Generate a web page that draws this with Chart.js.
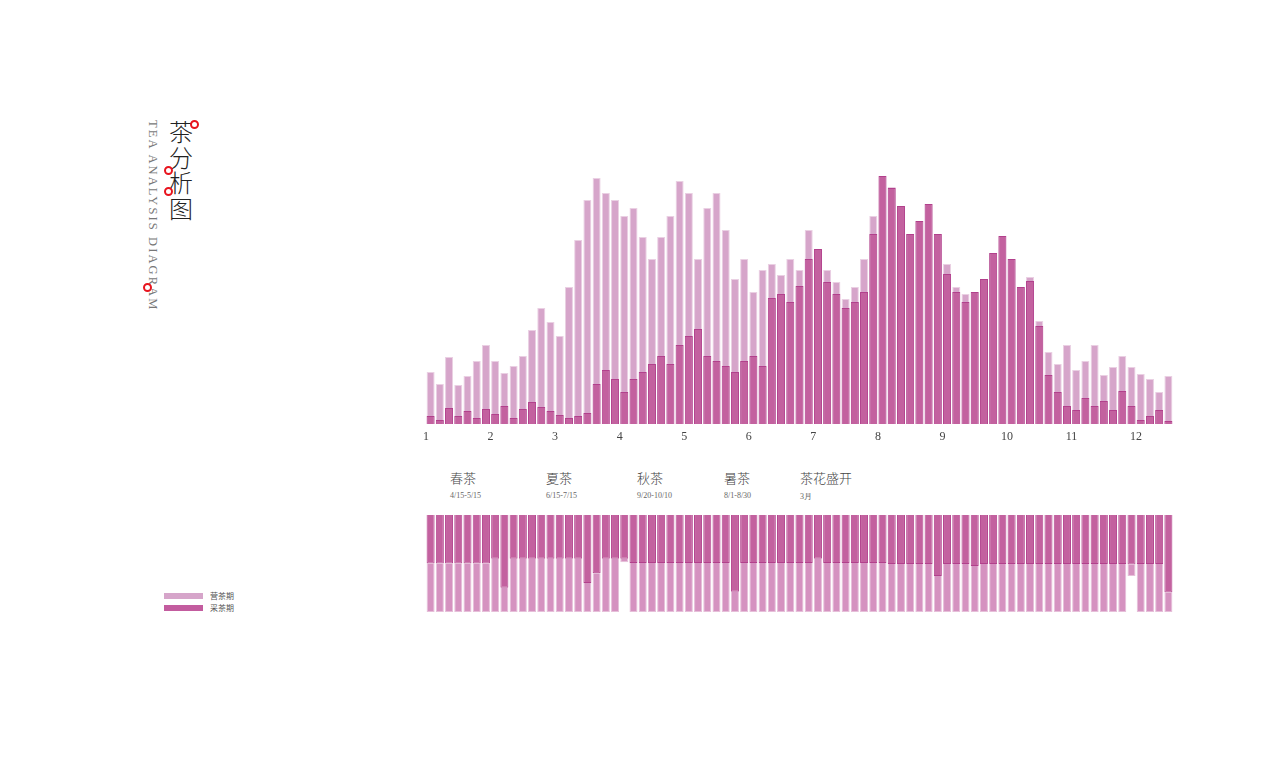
<!DOCTYPE html>
<html>
<head>
<meta charset="utf-8">
<script src="https://cdn.jsdelivr.net/npm/chart.js@4/dist/chart.umd.min.js"></script>
<style>
  html, body { margin: 0; padding: 0; background: #fff; }
  body { width: 1280px; height: 777px; position: relative; overflow: hidden; font-family: "Noto Sans CJK SC", sans-serif; }
  .abs { position: absolute; }
  #titleCn { left: 169px; top: 118px; font-size: 24px; line-height: 25.5px; width: 26px; color: #222; font-weight: 300; font-family: "Noto Sans CJK SC"; }
  #titleEn { left: 145px; top: 120px; writing-mode: vertical-rl; font-family: "Liberation Serif", serif; font-size: 12.5px; letter-spacing: 2.1px; color: #777; }
  .ring { width: 5px; height: 5px; border: 2px solid #e8141e; border-radius: 50%; background: #fff; }
  .season { font-size: 13px; color: #444; font-weight: 300; }
  .date { font-family: "Liberation Serif", serif; font-size: 8px; color: #666; }
  .sw { width: 39px; height: 6px; }
  .lg { font-size: 8px; color: #555; }
</style>
</head>
<body>
<div id="titleCn" class="abs">茶<br>分<br>析<br>图</div>
<div id="titleEn" class="abs">TEA ANALYSIS DIAGRAM</div>
<div class="abs ring" style="left:189.5px;top:119.5px"></div>
<div class="abs ring" style="left:164px;top:165.5px"></div>
<div class="abs ring" style="left:164px;top:187px"></div>
<div class="abs ring" style="left:142.5px;top:282.5px"></div>

<div class="abs" style="left:406px;top:174px;width:787px;height:276px"><canvas id="top"></canvas></div>
<div class="abs" style="left:426px;top:515px;width:747px;height:97px"><canvas id="bottom"></canvas></div>

<div id="seasons"></div>

<div class="abs sw" style="left:164px;top:593px;background:#d6a5ca"></div>
<div class="abs sw" style="left:164px;top:605px;background:#c35c9f"></div>
<div class="abs lg" style="left:210px;top:590px">营茶期</div>
<div class="abs lg" style="left:210px;top:602px">采茶期</div>

<script>
// ---- data ----
const monthLabels = ['1','2','3','4','5','6','7','8','9','10','11','12'];
const barsPerMonth = 7;
// top chart: growing period (light) and picking period (dark)
const growValues = [52,40,67,39,48,63,79,63,51,58,68,94,116,102,88,137,184,224,246,231,224,208,216,187,165,187,208,243,231,165,216,231,194,145,165,132,154,160,149,165,154,194,175,154,142,125,137,165,208,248,237,218,190,203,220,190,160,137,130,132,145,171,188,165,137,147,103,72,60,79,54,63,79,49,57,68,57,50,45,32,48];
const pickValues = [8,4,16,8,13,6,15,10,18,6,15,22,17,13,9,6,8,11,40,54,45,32,45,52,60,68,60,79,88,95,68,63,58,52,63,68,58,126,130,122,138,165,175,142,130,116,122,132,190,248,236,218,190,203,220,190,150,132,122,132,145,171,188,165,137,143,98,49,32,18,14,26,18,23,14,33,18,4,8,14,3];
// bottom chart: share (%) per bar
const pickShare = [50,50,50,50,50,50,50,45,75,45,45,45,45,45,45,45,45,70,60,45,45,45,49.5,49.5,49.5,49.5,49.5,49.5,49.5,49.5,49.5,49.5,49.5,79,49.5,49.5,49.5,49.5,49.5,49.5,49.5,49.5,45,49.5,49.5,49.5,49.5,49.5,49.5,49.5,50.5,50.5,50.5,50.5,50.5,63,50.5,50.5,50.5,52.6,50.5,50.5,50.5,50.5,50.5,50.5,50.5,50.5,50.5,50.5,50.5,50.5,50.5,50.5,50.5,50.5,51,50.5,50.5,50.5,80];
const growShare = [50,50,50,50,50,50,50,55,25,55,55,55,55,55,55,55,55,30,40,55,55,3.8,50.5,50.5,50.5,50.5,50.5,50.5,50.5,50.5,50.5,50.5,50.5,21,50.5,50.5,50.5,50.5,50.5,50.5,50.5,50.5,55,50.5,50.5,50.5,50.5,50.5,50.5,50.5,49.5,49.5,49.5,49.5,49.5,37,49.5,49.5,49.5,47.4,49.5,49.5,49.5,49.5,49.5,49.5,49.5,49.5,49.5,49.5,49.5,49.5,49.5,49.5,49.5,49.5,12,49.5,49.5,49.5,20];
const seasonNames = ['春茶','夏茶','秋茶','暑茶','茶花盛开'];
const seasonDates = ['4/15-5/15','6/15-7/15','9/20-10/10','8/1-8/30','3月'];

// ---- season labels ----
const seasonX = [450, 546, 637, 724, 800];
const sc = document.getElementById('seasons');
seasonNames.forEach((n, i) => {
  const a = document.createElement('div');
  a.className = 'abs season'; a.style.left = seasonX[i] + 'px'; a.style.top = '468px'; a.textContent = n;
  sc.appendChild(a);
  const b = document.createElement('div');
  b.className = 'abs date'; b.style.left = seasonX[i] + 'px'; b.style.top = '491px'; b.textContent = seasonDates[i];
  sc.appendChild(b);
});

const cats = growValues.map((_, i) => String(i + 1));
const LIGHT = '#d6a5ca', LIGHT_B = '#ead0e3';
const DARK = '#c3619f', DARK_B = '#b2408c';
const LIGHT2 = '#d592c0', LIGHT2_B = '#e6bfd9';

new Chart(document.getElementById('top'), {
  type: 'bar',
  data: {
    labels: cats,
    datasets: [
      { label: '营茶期', data: growValues, backgroundColor: LIGHT, borderColor: LIGHT_B, borderWidth: 1, grouped: false, order: 2, barPercentage: 0.87, categoryPercentage: 1 },
      { label: '采茶期', data: pickValues, backgroundColor: DARK, borderColor: DARK_B, borderWidth: 1, grouped: false, order: 1, barPercentage: 0.87, categoryPercentage: 1 }
    ]
  },
  options: {
    responsive: true, maintainAspectRatio: false, animation: false,
    layout: { padding: { left: 20, right: 20, top: 0, bottom: 0 } },
    plugins: { legend: { display: false }, tooltip: { enabled: false } },
    scales: {
      x: { display: false, offset: true },
      x2: {
        type: 'linear', position: 'bottom', min: 0, max: growValues.length, offset: false,
        grid: { display: false, drawTicks: false, offset: false }, border: { display: false },
        afterBuildTicks: (axis) => { axis.ticks = monthLabels.map((_, i) => ({ value: i * barsPerMonth })); },
        afterFit: (axis) => { axis.height = 26; axis.paddingLeft = 0; axis.paddingRight = 0; },
        ticks: {
          padding: 6, color: '#444', maxRotation: 0, autoSkip: false,
          font: { family: 'Liberation Serif', size: 12 },
          callback: (v) => monthLabels[Math.round(v / barsPerMonth)]
        }
      },
      y: { display: false, min: 0, max: 250 }
    }
  }
});

new Chart(document.getElementById('bottom'), {
  type: 'bar',
  data: {
    labels: cats,
    datasets: [
      { label: '采茶期', data: pickShare, backgroundColor: DARK, borderColor: DARK_B, borderWidth: 1, barPercentage: 0.87, categoryPercentage: 1 },
      { label: '营茶期', data: growShare, backgroundColor: LIGHT2, borderColor: LIGHT2_B, borderWidth: 1, barPercentage: 0.87, categoryPercentage: 1 }
    ]
  },
  options: {
    responsive: true, maintainAspectRatio: false, animation: false,
    layout: { padding: 0 },
    plugins: { legend: { display: false }, tooltip: { enabled: false } },
    scales: {
      x: { display: false, stacked: true },
      y: { display: false, stacked: true, reverse: true, min: 0, max: 100 }
    }
  }
});
</script>
</body>
</html>
